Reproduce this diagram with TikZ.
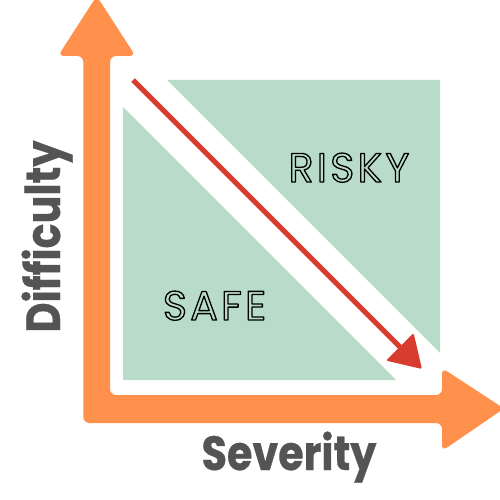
\documentclass[tikz,border=0pt]{standalone}
\usepackage{fontspec}
\setmainfont{Poppins}
\newcommand{\outlinetext}[1]{\special{pdf:literal direct 1 Tr 1.3 w 1 j 0 0 0 RG}#1\special{pdf:literal direct 0 Tr}}
\definecolor{axisorange}{HTML}{FF914D}
\definecolor{zonegreen}{HTML}{B8DCC9}
\definecolor{arrowred}{HTML}{D63D2F}
\definecolor{labelgray}{HTML}{545454}
\tikzset{
  axisshape/.style={fill=axisorange, draw=none, rounded corners=6pt},
  zone/.style={fill=zonegreen, draw=none},
  axislabel/.style={text=labelgray, font=\addfontfeatures{FakeStretch=0.86,FakeBold=0.6}\bfseries\fontsize{48}{48}\selectfont, inner sep=0pt, anchor=base},
  zonelabel/.style={font=\addfontfeatures{LetterSpace=8}\fontsize{41}{41}\selectfont, inner sep=0pt, anchor=base},
}
\begin{document}
\begin{tikzpicture}[x=1pt,y=-1pt]
\useasboundingbox (0,0) rectangle (500,500);
% green zones
\fill[zone] (167,80) -- (440,80) -- (440,353) -- cycle;
\fill[zone] (123,107) -- (396,380) -- (123,380) -- cycle;
% axes
\fill[axisshape] (83.3,423) -- (83.3,56) -- (58,56) -- (96.7,-4) -- (135.5,56) -- (110,56)
  -- (110,395) -- (442,395) -- (442,368) -- (504,408.5) -- (442,451) -- (442,423) -- cycle;
% red arrow
\coordinate (rs) at (133,80);
\coordinate (rb) at (400,347);
\coordinate (rt) at (422,369);
\coordinate (rl) at (413.6,333);
\coordinate (rr) at (386,360.6);
\draw[arrowred, line width=5pt] (rs) -- (rb);
\fill[arrowred, rounded corners=2pt] (rt) -- (rl) -- (rr) -- cycle;
% labels
\node[axislabel] (sev) at (289,470) {Severity};
\node[axislabel, rotate=90] (dif) at (60,236.5) {Difficulty};
\node[zonelabel] (risky) at (349,182) {\outlinetext{RISKY}};
\node[zonelabel] (safe) at (214.5,320) {\outlinetext{SAFE}};
\end{tikzpicture}
\end{document}
